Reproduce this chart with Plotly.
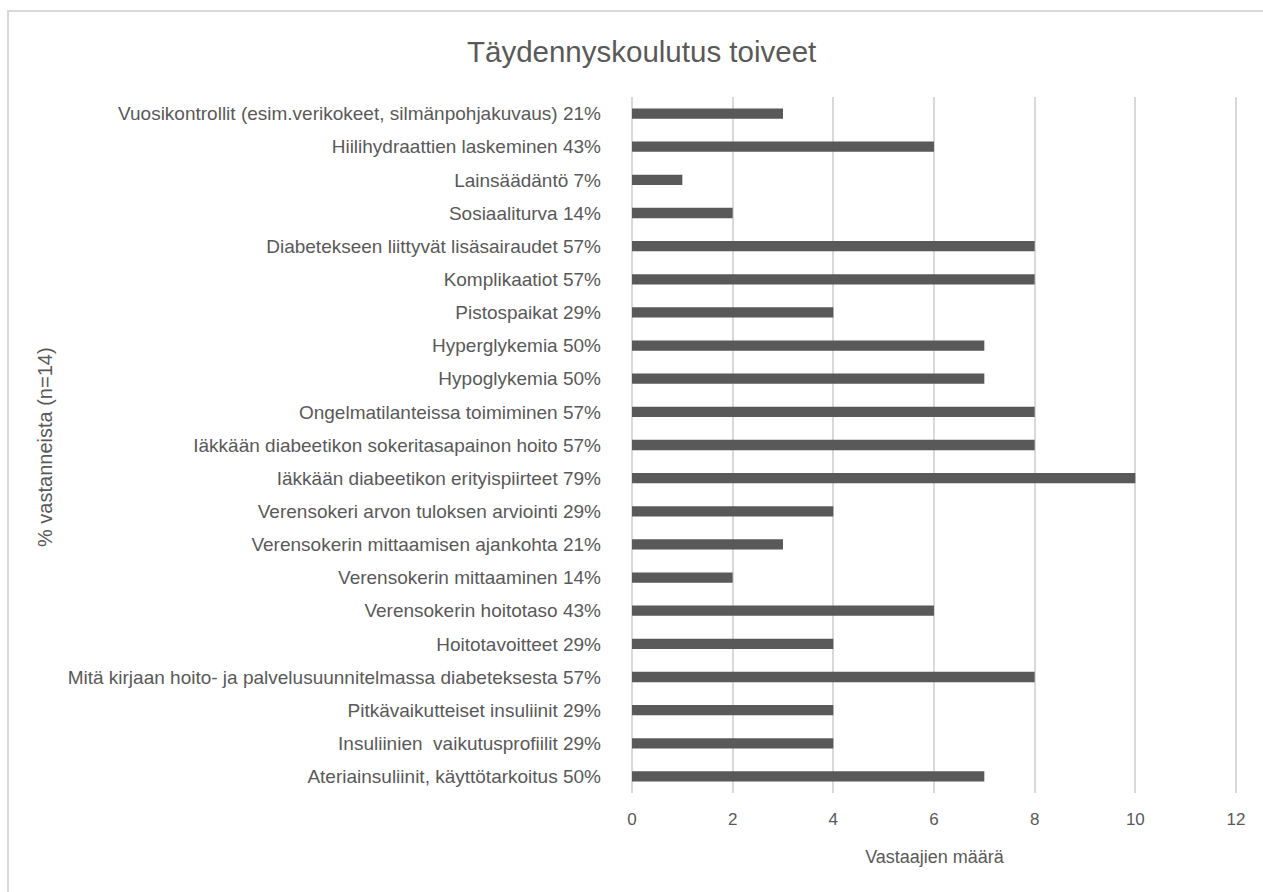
import plotly.graph_objects as go

# Survey topics, listed top to bottom as drawn
topics = [
    "Vuosikontrollit (esim.verikokeet, silmänpohjakuvaus) 21%",
    "Hiilihydraattien laskeminen 43%",
    "Lainsäädäntö 7%",
    "Sosiaaliturva 14%",
    "Diabetekseen liittyvät lisäsairaudet 57%",
    "Komplikaatiot 57%",
    "Pistospaikat 29%",
    "Hyperglykemia 50%",
    "Hypoglykemia 50%",
    "Ongelmatilanteissa toimiminen 57%",
    "Iäkkään diabeetikon sokeritasapainon hoito 57%",
    "Iäkkään diabeetikon erityispiirteet 79%",
    "Verensokeri arvon tuloksen arviointi 29%",
    "Verensokerin mittaamisen ajankohta 21%",
    "Verensokerin mittaaminen 14%",
    "Verensokerin hoitotaso 43%",
    "Hoitotavoitteet 29%",
    "Mitä kirjaan hoito- ja palvelusuunnitelmassa diabeteksesta 57%",
    "Pitkävaikutteiset insuliinit 29%",
    "Insuliinien\u00a0 vaikutusprofiilit 29%",
    "Ateriainsuliinit, käyttötarkoitus 50%",
]
respondents = [3, 6, 1, 2, 8, 8, 4, 7, 7, 8, 8, 10, 4, 3, 2, 6, 4, 8, 4, 4, 7]

x_ticks = [0, 2, 4, 6, 8, 10, 12]

TEXT = "#595959"
GRID = "#d9d9d9"
FONT = "Liberation Sans"

fig = go.Figure(
    go.Bar(
        x=respondents,
        y=topics,
        orientation="h",
        marker=dict(color="#595959", line=dict(width=0)),
        width=0.31,
    )
)

fig.update_layout(
    width=1263,
    height=892,
    margin=dict(l=632, r=26, t=97, b=99),
    paper_bgcolor="white",
    plot_bgcolor="white",
    font=dict(family=FONT, color=TEXT, size=15),
    showlegend=False,
    title=dict(
        text="Täydennyskoulutus toiveet",
        x=0.508,
        xanchor="center",
        y=0.942,
        yanchor="middle",
        font=dict(family=FONT, size=29.5, color=TEXT),
    ),
)

fig.update_xaxes(
    range=[0, 12.02],
    tickvals=x_ticks,
    showgrid=True,
    gridcolor=GRID,
    gridwidth=1.5,
    zeroline=True,
    zerolinecolor=GRID,
    zerolinewidth=1.5,
    showline=False,
    ticks="",
    ticklabelstandoff=14,
    tickfont=dict(size=17, color=TEXT),
    title=dict(text="Vastaajien määrä", font=dict(size=18, color=TEXT), standoff=22),
)

fig.update_yaxes(
    autorange="reversed",
    showgrid=False,
    zeroline=False,
    showline=False,
    ticks="",
    ticklabelstandoff=30,
    tickfont=dict(size=19, color=TEXT),
)

# Vertical axis caption at the far left
fig.add_annotation(
    text="% vastanneista (n=14)",
    xref="paper",
    yref="paper",
    x=(45 - 632) / 605,
    y=(793 - 447) / 696,
    xanchor="center",
    yanchor="middle",
    textangle=-90,
    showarrow=False,
    font=dict(family=FONT, size=20, color=TEXT),
)

# Outer chart frame
fig.add_shape(
    type="rect",
    xref="paper",
    yref="paper",
    x0=(8 - 632) / 605,
    x1=(1500 - 632) / 605,
    y0=(793 - 1100) / 696,
    y1=(793 - 11) / 696,
    line=dict(color=GRID, width=2),
    fillcolor="rgba(0,0,0,0)",
    layer="below",
)

fig.write_html("out.html")
